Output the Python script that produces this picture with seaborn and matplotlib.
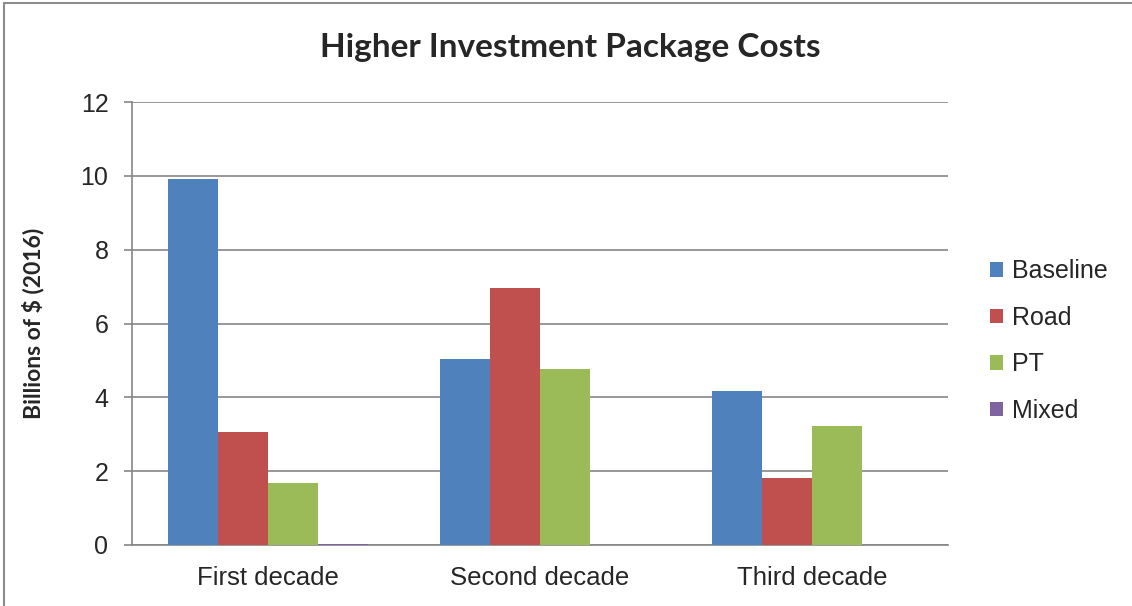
import matplotlib
matplotlib.use("Agg")
import matplotlib.pyplot as plt
from matplotlib.lines import Line2D
from matplotlib.patches import Patch
import seaborn as sns
import pandas as pd

# Package costs by decade, billions of 2016 dollars
decades = ["First decade", "Second decade", "Third decade"]
baseline = [9.92, 5.03, 4.18]
road = [3.06, 6.97, 1.82]
pt = [1.68, 4.77, 3.22]
mixed = [0.04, 0.0, 0.0]
series_names = ["Baseline", "Road", "PT", "Mixed"]
series_colors = ["#4F81BD", "#C0504D", "#9BBB59", "#8064A2"]
y_ticks = [0, 2, 4, 6, 8, 10, 12]

rows = []
for name, vals in zip(series_names, [baseline, road, pt, mixed]):
    for d, v in zip(decades, vals):
        rows.append({"Decade": d, "Package": name, "Cost": v})
df = pd.DataFrame(rows)

sns.set_theme(style="white")
plt.rcParams["font.family"] = ["Liberation Sans", "DejaVu Sans"]

fig = plt.figure(figsize=(11.32, 6.06), dpi=100)
ax = fig.add_axes([132 / 1132, 1 - 545 / 606, (948 - 132) / 1132, (545 - 102) / 606])

sns.barplot(data=df, x="Decade", y="Cost", hue="Package", order=decades,
            hue_order=series_names, palette=series_colors, width=0.735,
            gap=0, saturation=1, errorbar=None, legend=False, ax=ax,
            linewidth=0, zorder=3)

ax.set_ylim(0, 12)
ax.set_yticks(y_ticks)
ax.set_yticklabels([str(t) for t in y_ticks], fontsize=18)
ax.set_xlim(-0.5, 2.5)
ax.tick_params(axis="x", length=0, labelsize=18.5, pad=15)
ax.tick_params(axis="y", length=6, width=1.2, color="#868686", direction="out",
               left=True, pad=11)
ax.set_xlabel("")
ax.set_ylabel("Billions of $ (2016)", fontsize=16.5, fontweight="bold",
              family=["Lato", "DejaVu Sans"], labelpad=26)
ax.yaxis.grid(True, color="#868686", linewidth=1.2, zorder=0)
ax.set_axisbelow(True)
for side in ["top", "right"]:
    ax.spines[side].set_visible(False)
for side in ["left", "bottom"]:
    ax.spines[side].set_color("#868686")
    ax.spines[side].set_linewidth(1.2)

fig.text(570 / 1132, 1 - 48 / 606, "Higher Investment Package Costs",
         ha="center", va="center", fontsize=24, fontweight="bold",
         family=["Lato", "DejaVu Sans"])

handles = [Patch(facecolor=c, edgecolor="none") for c in series_colors]
fig.legend(handles, series_names, loc="center left",
           bbox_to_anchor=(980 / 1132, 1 - 341 / 606), frameon=False,
           fontsize=18, handlelength=0.5, handleheight=0.5,
           handletextpad=0.4, labelspacing=0.9, borderaxespad=0)

# chart frame along the left and top edges
fig.add_artist(Line2D([4 / 1132, 4 / 1132], [0, 1 - 3 / 606],
                      transform=fig.transFigure, color="#8C8C8C", linewidth=1.5))
fig.add_artist(Line2D([4 / 1132, 1], [1 - 3 / 606, 1 - 3 / 606],
                      transform=fig.transFigure, color="#8C8C8C", linewidth=1.5))

fig.savefig("out.png", dpi=100, facecolor="white")
